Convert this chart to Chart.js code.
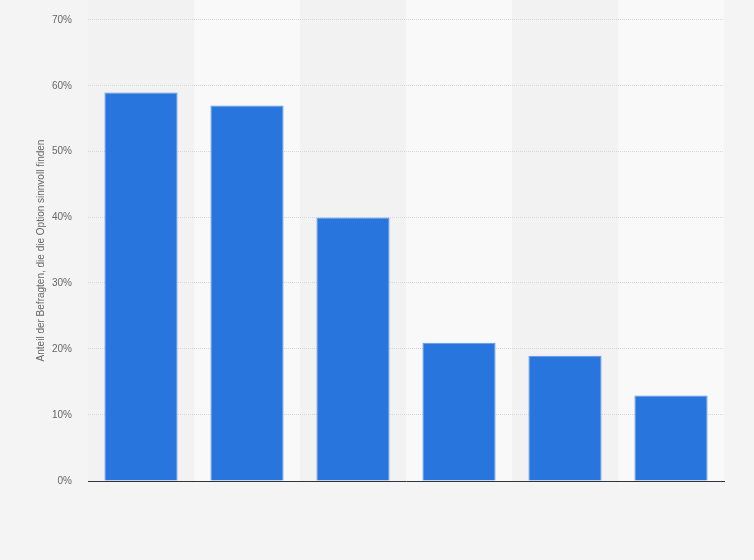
<!DOCTYPE html>
<html>
<head>
<meta charset="utf-8">
<script src="https://cdn.jsdelivr.net/npm/chart.js@4/dist/chart.umd.min.js"></script>
<style>
  html, body { margin: 0; padding: 0; background: #f4f4f4; }
  #wrap { width: 754px; height: 560px; }
</style>
</head>
<body>
<div id="wrap"><canvas id="chart" width="754" height="560"></canvas></div>
<script>
// Werte
var categories = ['Option 1', 'Option 2', 'Option 3', 'Option 4', 'Option 5', 'Option 6'];
var shares = [59, 57, 40, 21, 19, 13];
var yTicks = [0, 10, 20, 30, 40, 50, 60, 70];
var yTitle = 'Anteil der Befragten, die die Option sinnvoll finden';

// Hintergrundstreifen je Kategorie
var bandPlugin = {
    id: 'bands',
    beforeDatasetsDraw: function (chart) {
        var ctx = chart.ctx;
        var x = chart.scales.x;
        var area = chart.chartArea;
        var half = (area.right - area.left) / categories.length / 2;
        ctx.save();
        categories.forEach(function (c, i) {
            var cx = x.getPixelForValue(i);
            ctx.fillStyle = i % 2 === 0 ? '#f2f2f2' : '#f9f9f9';
            ctx.fillRect(cx - half, 0, half * 2, area.bottom);
        });
        ctx.restore();
        // Gitterlinien erneut ueber den Streifen zeichnen
        var y = chart.scales.y;
        ctx.save();
        ctx.strokeStyle = '#d6d6d6';
        ctx.lineWidth = 1;
        ctx.setLineDash([1, 1]);
        yTicks.forEach(function (t) {
            if (t === 0) return;
            var py = Math.round(y.getPixelForValue(t)) - 0.5;
            ctx.beginPath();
            ctx.moveTo(area.left, py);
            ctx.lineTo(area.right, py);
            ctx.stroke();
        });
        ctx.restore();
    }
};

new Chart(document.getElementById('chart'), {
    type: 'bar',
    data: {
        labels: categories,
        datasets: [{
            data: shares,
            backgroundColor: '#2876dd',
            borderColor: '#5d97e6',
            borderWidth: 1,
            categoryPercentage: 0.69,
            barPercentage: 1
        }]
    },
    options: {
        responsive: false,
        animation: false,
        layout: { padding: { top: 20, right: 30, left: 0, bottom: 0 } },
        plugins: {
            legend: { display: false },
            tooltip: { enabled: false }
        },
        scales: {
            x: {
                ticks: { display: false },
                grid: { display: false, drawTicks: false },
                border: { display: true, color: '#333333', width: 1 },
                afterFit: function (s) { s.height = 79; }
            },
            y: {
                min: 0,
                max: 70,
                afterBuildTicks: function (s) {
                    s.ticks = yTicks.map(function (v) { return { value: v }; });
                },
                ticks: {
                    color: '#666666',
                    padding: 2,
                    font: { size: 10, family: "'Liberation Sans', Arial, sans-serif" },
                    callback: function (v) { return v + '%'; }
                },
                grid: {
                    display: true,
                    drawOnChartArea: false,
                    drawTicks: true,
                    tickLength: 14,
                    tickColor: 'rgba(0,0,0,0)'
                },
                border: { display: false },
                title: {
                    display: true,
                    text: yTitle,
                    color: '#666666',
                    padding: { top: 35, bottom: 0 },
                    font: { size: 10, family: "'Liberation Sans', Arial, sans-serif" }
                },
                afterFit: function (s) { s.width = 88; }
            }
        }
    },
    plugins: [bandPlugin]
});
</script>
</body>
</html>
